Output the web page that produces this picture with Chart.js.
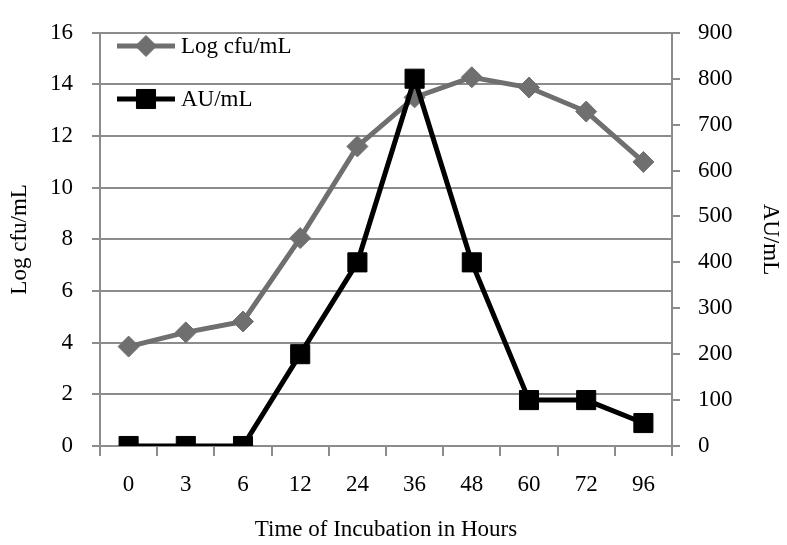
<!DOCTYPE html>
<html><head><meta charset="utf-8">
<script src="https://cdn.jsdelivr.net/npm/chart.js@4/dist/chart.umd.min.js"></script>
<style>html,body{margin:0;padding:0;background:#fff}#wrap{width:787px;height:545px}</style>
</head><body><div id="wrap"><canvas id="c" width="787" height="545"></canvas></div>
<script>
const hours = ['0','3','6','12','24','36','48','60','72','96'];
const logCfu = [3.85, 4.4, 4.82, 8.05, 11.6, 13.5, 14.28, 13.88, 12.95, 11.0];
const auPerMl = [0, 0, 0, 200, 400, 800, 400, 100, 100, 50];
const leftAxis = {min: 0, max: 16, step: 2, title: 'Log cfu/mL'};
const rightAxis = {min: 0, max: 900, step: 100, title: 'AU/mL'};
const xTitle = 'Time of Incubation in Hours';
const seriesNames = ['Log cfu/mL', 'AU/mL'];

const FONT = "'Liberation Serif', 'Times New Roman', serif";
const FS = 23;
const GRID = '#8c8c8c';
const TXT = '#000000';

const insideLegend = {
  id: 'insideLegend',
  afterDraw(chart) {
    const ctx = chart.ctx;
    const dsList = [chart.data.datasets[0], chart.data.datasets[1]];
    const rows = [46, 99];
    ctx.save();
    dsList.forEach((ds, i) => {
      const y = rows[i];
      ctx.strokeStyle = ds.borderColor;
      ctx.lineWidth = ds.borderWidth;
      ctx.beginPath();
      ctx.moveTo(117, y); ctx.lineTo(175, y);
      ctx.stroke();
      ctx.fillStyle = ds.pointBackgroundColor;
      ctx.strokeStyle = ds.pointBorderColor;
      ctx.lineWidth = ds.pointBorderWidth;
      Chart.helpers.drawPoint(ctx, {pointStyle: ds.pointStyle, radius: ds.pointRadius, borderWidth: ds.pointBorderWidth, rotation: 0}, 146, y);
      ctx.fillStyle = TXT;
      ctx.font = FS + "px " + FONT;
      ctx.textAlign = 'left';
      ctx.textBaseline = 'middle';
      ctx.fillText(ds.label, 181, y + 1);
    });
    ctx.restore();
  }
};

new Chart(document.getElementById('c'), {
  type: 'line',
  data: {
    labels: hours,
    datasets: [
      {label: seriesNames[0], data: logCfu, yAxisID: 'y', order: 2,
       borderColor: '#6f6f6f', borderWidth: 5, pointStyle: 'rectRot', pointRadius: 10.5,
       pointBackgroundColor: '#6f6f6f', pointBorderColor: '#6f6f6f', pointBorderWidth: 1, tension: 0},
      {label: seriesNames[1], data: auPerMl, yAxisID: 'y1', order: 1,
       borderColor: '#000000', borderWidth: 5, pointStyle: 'rect', pointRadius: 13.5,
       pointBackgroundColor: '#000000', pointBorderColor: '#000000', pointBorderWidth: 1, tension: 0}
    ]
  },
  options: {
    responsive: false, animation: false, devicePixelRatio: 1,
    layout: {padding: {top: 22, left: 0, right: 0, bottom: 0}},
    plugins: {legend: {display: false}, tooltip: {enabled: false}},
    scales: {
      x: {
        type: 'category', offset: true,
        grid: {display: true, offset: true, drawOnChartArea: false, drawTicks: true, tickLength: 10, color: GRID, lineWidth: 2},
        border: {display: true, color: GRID, width: 2},
        ticks: {color: TXT, font: {family: FONT, size: FS}, padding: 15, maxRotation: 0, autoSkip: false},
        title: {display: true, text: xTitle, color: TXT, font: {family: FONT, size: FS, lineHeight: 1.2}, padding: {top: 0, bottom: 1}},
        afterFit(s) { s.height = 99; }
      },
      y: {
        position: 'left', min: leftAxis.min, max: leftAxis.max,
        ticks: {stepSize: leftAxis.step, color: TXT, font: {family: FONT, size: FS}, padding: 19},
        grid: {color: GRID, lineWidth: 2, tickLength: 8, drawTicks: true},
        border: {display: true, color: GRID, width: 2},
        title: {display: true, text: leftAxis.title, color: TXT, font: {family: FONT, size: FS, lineHeight: 1.2}, padding: {top: 6, bottom: 0}},
        afterFit(s) { s.width = 100; }
      },
      y1: {
        position: 'right', min: rightAxis.min, max: rightAxis.max,
        ticks: {stepSize: rightAxis.step, color: TXT, font: {family: FONT, size: FS}, padding: 18},
        grid: {color: GRID, lineWidth: 2, tickLength: 8, drawTicks: true, drawOnChartArea: false},
        border: {display: true, color: GRID, width: 2},
        title: {display: true, text: rightAxis.title, color: TXT, font: {family: FONT, size: FS, lineHeight: 1.2}, padding: {top: 3, bottom: 0}},
        afterFit(s) { s.width = 115; }
      }
    }
  },
  plugins: [insideLegend]
});
</script>
</body></html>
